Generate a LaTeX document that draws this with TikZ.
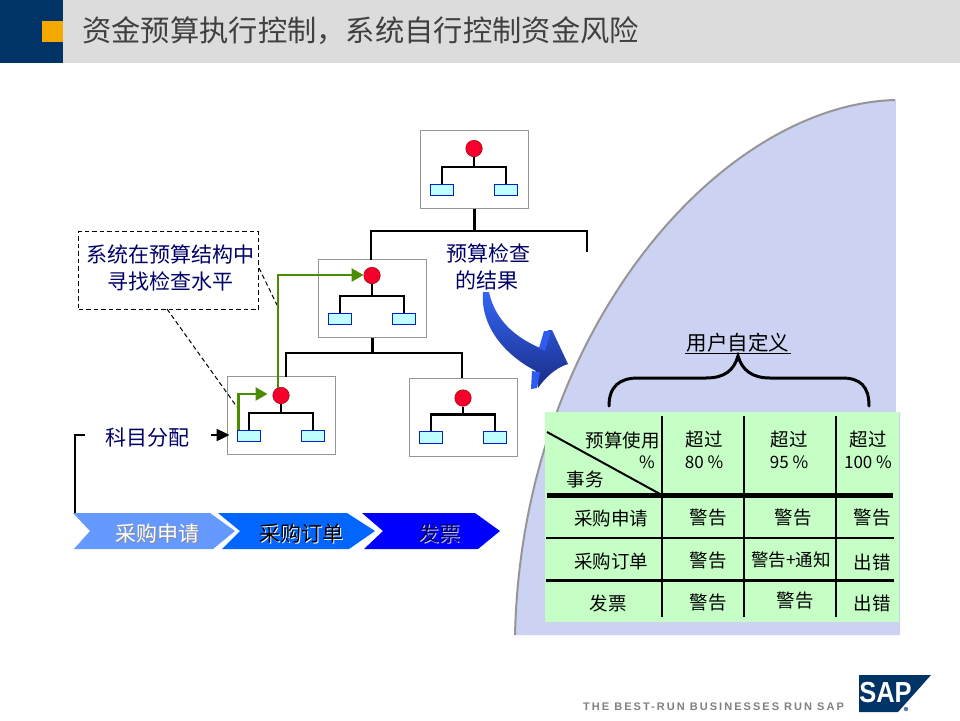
\documentclass[tikz,border=0pt]{standalone}
\usepackage{fontspec}
\setmainfont{Noto Sans CJK SC}
\newfontfamily\latinbold{Liberation Sans}[BoldFont={Liberation Sans Bold},LetterSpace=18.5]
\newfontfamily\sapfont{Liberation Sans}
\usetikzlibrary{arrows.meta,calc}
\definecolor{navyhdr}{HTML}{003366}
\definecolor{hdrgray}{HTML}{DCDCDC}
\definecolor{orangesq}{HTML}{F5A800}
\definecolor{titlegray}{HTML}{404040}
\definecolor{inknavy}{HTML}{000066}
\definecolor{lav}{HTML}{CCD3F2}
\definecolor{tgreen}{HTML}{C6FFC6}
\definecolor{arrowgreen}{HTML}{4A8C00}
\definecolor{boxgray}{HTML}{969696}
\definecolor{redball}{HTML}{F5002D}
\definecolor{cyanbox}{HTML}{C0FFFF}
\definecolor{blueedge}{HTML}{0022CC}
\definecolor{chevA}{HTML}{6699FF}
\definecolor{chevB}{HTML}{0066FF}
\definecolor{chevC}{HTML}{0000FF}
\definecolor{arrowtop}{HTML}{3366F5}
\definecolor{arrowbot}{HTML}{1A2C85}
\definecolor{arrowbarb}{HTML}{2E5CF0}
\newcommand{\fsz}[1]{\fontsize{#1}{#1}\selectfont}
\tikzset{
  orgbox/.style={draw=boxgray,line width=1pt,fill=white,minimum width=108pt,minimum height=78pt,inner sep=0pt,outer sep=0pt,anchor=north west},
  ball/.style={circle,draw=red!60!black,line width=.5pt,fill=redball,minimum size=16.5pt,inner sep=0pt},
  leaf/.style={draw=blueedge,line width=1pt,fill=cyanbox,minimum width=23.5pt,minimum height=11.5pt,inner sep=0pt},
  wire/.style={line width=2.4pt,black},
  gwire/.style={line width=2.6pt,arrowgreen,-{Triangle[length=12pt,width=13pt]}},
  lab/.style={inner sep=0pt,text=inknavy,font=\fsz{21}},
  tlab/.style={inner sep=0pt,text=black,font=\fsz{18.5}},
  grid/.style={line width=2pt,black},
  chevlab/.style={inner sep=0pt,font=\fsz{21}},
  dashline/.style={dash pattern=on 4.5pt off 3pt,line width=1pt},
}
\newcommand{\orgunit}[4]{%
  \node[orgbox] (#1) at (#2,#3) {};
  \node[ball] (#1c) at ($(#2,#3)+(53.5,#4)$) {};
  \node[leaf] (#1l) at ($(#2,#3)+(21.5,59.5)$) {};
  \node[leaf] (#1r) at ($(#2,#3)+(85.5,59.5)$) {};
  \coordinate (#1j) at ($(#2,#3)+(53.5,36.5)$);
  \draw[wire] (#1c.south) -- (#1j);
  \draw[wire] (#1l.north) -- (#1l.north |- #1j) -- (#1r.north |- #1j) -- (#1r.north);
}
\begin{document}
\begin{tikzpicture}[x=1pt,y=-1pt]
\useasboundingbox (0,0) rectangle (960,720);
\fill[white] (0,0) rectangle (960,720);
% header
\fill[hdrgray] (63,0) rectangle (960,63);
\fill[navyhdr] (0,0) rectangle (63,63);
\fill[orangesq] (42,21) rectangle (63,42);
\node[anchor=west,inner sep=0pt,text=titlegray,font=\fsz{29.3}] (title) at (82,31) {资金预算执行控制，系统自行控制资金风险};
% blob
\fill[lav] (515,635) .. controls (522,330) and (720,105) .. (895,100) -- (900,100) -- (900,635) -- cycle;
\fill[white] (896,90) rectangle (902,412);
\draw[boxgray,line width=2pt] (515,635) .. controls (522,330) and (720,105) .. (895,100);
% org units
\orgunit{a}{420.5}{130.5}{18}
\orgunit{b}{318.5}{259.5}{16}
\orgunit{c}{227.5}{376.5}{19}
\orgunit{d}{409.5}{378}{20}
% connectors
\coordinate (ja) at (474.5,231);
\coordinate (jal) at (371,231);
\coordinate (jar) at (587,231);
\coordinate (jae) at (587,252);
\coordinate (jb) at (372.5,353);
\coordinate (jbl) at (286,353);
\coordinate (jbr) at (462,353);
\draw[wire] (a.south) -- (ja);
\draw[wire] (b.north -| jal) -- (jal) -- (jar) -- (jae);
\draw[wire] (b.south) -- (jb);
\draw[wire] (c.north -| jbl) -- (jbl) -- (jbr) -- (d.north -| jbr);
% callout
\node[draw,dashline,minimum width=180pt,minimum height=78pt,anchor=north west,inner sep=0pt,outer sep=0pt,fill=white] (call) at (78.5,231.5) {};
\node[lab,text=inknavy,align=center] (calltxt) at (170,268) {系统在预算结构中\\[6pt]寻找检查水平};
\coordinate (ce1) at (237,407);
\coordinate (ce2) at (277,305);
\coordinate (cs1) at (167,309);
\coordinate (cs2) at (259,268);
\draw[dashline] (cs1) -- (ce1);
\draw[dashline] (cs2) -- (ce2);
% green arrows
\coordinate (g1s) at (238.5,430);
\coordinate (g1a) at (238.5,394);
\coordinate (g2s) at (278,388);
\coordinate (g2a) at (278,275);
\draw[gwire] (g1s) -- (g1a) -- ($(cc.west |- g1a)+(-5,0)$);
\draw[gwire] (g2s) -- (g2a) -- (bc.west |- g2a);
% account assignment
\node[lab] (acct) at (147,438) {科目分配};
\coordinate (lb1) at (75,513);
\coordinate (lb2) at (75,435);
\coordinate (lb3) at (85,435);
\draw[line width=2.4pt] (lb1) -- (lb2) -- (lb3);
\coordinate (acctarrow) at (211,435);
\draw[line width=2.4pt,-{Triangle[length=13pt,width=12pt]}] (acctarrow) -- ($(c.west |- acctarrow)+(2,0)$);
% chevrons
\fill[chevA] (73,513) -- (210,513) -- (235,531) -- (213,549) -- (74,549) -- (90,531) -- cycle;
\fill[chevB] (218,513) -- (347,513) -- (375,531) -- (349,549) -- (222,549) -- (240,531) -- cycle;
\fill[chevC] (362,513) -- (475,513) -- (500,531) -- (478,549) -- (364,549) -- (383,531) -- cycle;
\node[chevlab,text=black!45] at (158,535) {采购申请};
\node[chevlab,text=white] (pr) at (157,534) {采购申请};
\node[chevlab,text=white] at (302,535) {采购订单};
\node[chevlab,text=black] (po) at (301,534) {采购订单};
\node[chevlab,text=white!80!blue] at (440,535) {发票};
\node[chevlab,text=inknavy] (inv) at (439,534) {发票};
% result label
\node[lab] (res1) at (488,253) {预算检查};
\node[lab] (res2) at (487,280) {的结果};
% 3D arrow
\shade[top color=arrowtop,bottom color=arrowbot] (483,292) -- (489,292)
  .. controls (496,325) and (522,340) .. (540,348) -- (548,330) -- (552,330) -- (568,364)
  .. controls (555,368) and (545,378) .. (538,388) -- (536,371)
  .. controls (510,358) and (480,330) .. (483,292) -- cycle;
\fill[arrowbarb] (544,331) -- (551,331) -- (545,351) -- (539,348) -- cycle;
\fill[arrowbarb] (532,371) -- (540,372) -- (537,388) -- (531,389) -- cycle;
% user defined
\node[lab,text=black,font=\fsz{20.5}] (ud) at (738,343) {用户自定义};
\coordinate (udl) at (685,353.5);
\coordinate (udr) at (791,353.5);
\draw[line width=1pt] (udl) -- (udr);
\coordinate (br1) at (609,406);
\coordinate (br2) at (869,406);
\coordinate (brt) at (738,356);
\draw[line width=3pt,line cap=round] (br1) .. controls (609,386) and (620,378) .. (638,378) -- (706,378)
  .. controls (725,378) and (734,370) .. (brt)
  .. controls (742,370) and (752,378) .. (770,378) -- (842,378)
  .. controls (860,378) and (869,386) .. (br2);
% table
\fill[tgreen] (545,412) rectangle (899,622);
\coordinate (v1t) at (661.5,416); \coordinate (v1b) at (661.5,617);
\coordinate (v2t) at (744,416);   \coordinate (v2b) at (744,617);
\coordinate (v3t) at (836,416);   \coordinate (v3b) at (836,617);
\draw[grid] (v1t) -- (v1b);
\draw[grid] (v2t) -- (v2b);
\draw[grid] (v3t) -- (v3b);
\coordinate (h1l) at (547,495.5); \coordinate (h1r) at (893,495.5);
\coordinate (h2l) at (546,538);   \coordinate (h2r) at (894,538);
\coordinate (h3l) at (546,580.5); \coordinate (h3r) at (894,580.5);
\draw[black,line width=4.5pt] (h1l) -- (h1r);
\draw[grid] (h2l) -- (h2r);
\draw[grid,line width=3pt] (h3l) -- (h3r);
\coordinate (dg1) at (547,432); \coordinate (dg2) at (660,494);
\draw[line width=2pt] (dg1) -- (dg2);
\node[tlab,anchor=east] (t00) at (660,440) {预算使用};
\node[tlab,font=\fsz{17}] (t01) at (647,462) {\%};
\node[tlab] (t02) at (585,479) {事务};
\node[tlab] (t1) at (704,439) {超过};
\node[tlab,font=\fsz{17}] (t1b) at (704,462) {80 \%};
\node[tlab] (t2) at (789,439) {超过};
\node[tlab,font=\fsz{17}] (t2b) at (789,462) {95 \%};
\node[tlab] (t3) at (868,439) {超过};
\node[tlab,font=\fsz{17}] (t3b) at (868,462) {100 \%};
\node[tlab] (r1) at (611,518) {采购申请};
\node[tlab] (r2) at (611,561) {采购订单};
\node[tlab] (r3) at (608,603) {发票};
\node[tlab] (c11) at (708,518) {警告};
\node[tlab] (c12) at (793,518) {警告};
\node[tlab] (c13) at (872,518) {警告};
\node[tlab] (c21) at (708,561) {警告};
\node[tlab,font=\fsz{17.5}] (c22) at (791,560) {警告+通知};
\node[tlab] (c23) at (872,562) {出错};
\node[tlab] (c31) at (708,603) {警告};
\node[tlab] (c32) at (795,601) {警告};
\node[tlab] (c33) at (872,603) {出错};
% footer
\node[anchor=west,inner sep=0pt,text=black!50,font={\latinbold\bfseries\fsz{11}}] (tag) at (583,707) {THE BEST-RUN BUSINESSES RUN SAP};
\fill[navyhdr] (859,675) -- (931,675) -- (898,712) -- (859,712) -- cycle;
\node[inner sep=0pt,text=white,font={\sapfont\bfseries\fsz{29}},xscale=.88,yscale=1,anchor=center] (sap) at (885.5,692.5) {SAP};
\fill[navyhdr!65!white] (906,709) circle (2.2);
\end{tikzpicture}
\end{document}
